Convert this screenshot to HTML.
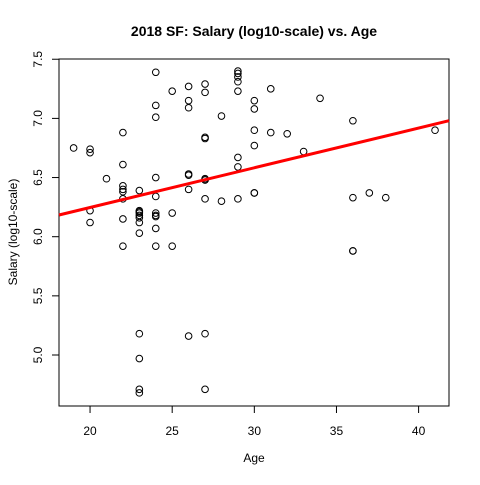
<!DOCTYPE html>
<html><head><meta charset="utf-8"><style>
body{margin:0;background:#fff;}
svg text{font-family:"Liberation Sans",Arial,sans-serif;fill:#000;}
</style></head><body>
<svg id="chart" width="480" height="480">
<text x="254" y="36" text-anchor="middle" font-size="14" font-weight="bold">2018 SF: Salary (log10-scale) vs. Age</text>
<text x="254" y="462" text-anchor="middle" font-size="12">Age</text>
<text transform="translate(17,232) rotate(-90)" text-anchor="middle" font-size="12">Salary (log10-scale)</text>
<rect x="59" y="59" width="390" height="347" fill="none" stroke="#000" stroke-width="1"/>
<g id="axes"></g>
<g id="points"></g>
<g id="fit"></g>
</svg>
<script>
const ages = [19,20,20,20,20,21,22,22,22,22,22,22,22,22,23,23,23,23,23,23,23,23,23,23,23,23,24,24,24,24,24,24,24,24,24,24,25,25,25,26,26,26,26,26,26,26,27,27,27,27,27,27,27,27,27,27,28,28,29,29,29,29,29,29,29,29,30,30,30,30,30,30,31,31,32,33,34,36,36,36,36,37,38,41];
const salaries = [6.75,6.74,6.71,6.22,6.12,6.49,6.88,6.61,6.43,6.40,6.38,6.32,6.15,5.92,6.39,6.22,6.21,6.18,6.16,6.12,6.03,5.18,4.97,4.71,4.68,6.20,7.39,7.11,7.01,6.50,6.34,6.20,6.18,6.17,6.07,5.92,7.23,6.20,5.92,7.27,7.15,7.09,6.53,6.52,6.40,5.16,7.29,7.22,6.84,6.83,6.49,6.48,6.32,5.18,4.71,6.48,7.02,6.30,7.40,7.38,7.35,7.31,7.23,6.67,6.59,6.32,7.15,7.08,6.90,6.77,6.37,6.37,7.25,6.88,6.87,6.72,7.17,6.98,6.33,5.88,5.88,6.37,6.33,6.90];
const xTicks = [20,25,30,35,40];
const yTicks = [5.0,5.5,6.0,6.5,7.0,7.5];
const xDomain = [18.11, 41.85];
const yDomain = [4.569, 7.502];

const NS = "http://www.w3.org/2000/svg";
const X0=59, X1=449, Y0=406, Y1=59;
function sx(v){return X0+(v-xDomain[0])/(xDomain[1]-xDomain[0])*(X1-X0);}
function sy(v){return Y0-(v-yDomain[0])/(yDomain[1]-yDomain[0])*(Y0-Y1);}
function mk(tag,attrs,parent){const e=document.createElementNS(NS,tag);for(const k in attrs)e.setAttribute(k,attrs[k]);parent.appendChild(e);return e;}

const axes=document.getElementById('axes');
const xl=mk('line',{x1:sx(20),x2:sx(40),y1:Y0,y2:Y0,stroke:'#000'},axes);


xTicks.forEach(t=>{
  const l=mk('line',{x1:sx(t),x2:sx(t),y1:Y0,y2:Y0+7,stroke:'#000'},axes);
  
  
  const tx=mk('text',{x:sx(t),y:435,'text-anchor':'middle','font-size':'12'},axes);
  tx.textContent=t;
  
  
});
yTicks.forEach(t=>{
  const l=mk('line',{x1:X0-7,x2:X0,y1:sy(t),y2:sy(t),stroke:'#000'},axes);
  
  
  const tx=mk('text',{transform:`translate(42,${sy(t)}) rotate(-90)`,'text-anchor':'middle','font-size':'12'},axes);
  tx.textContent=t.toFixed(1);
  
  
});

const pts=document.getElementById('points');
ages.forEach((a,i)=>{
  const c=mk('circle',{cx:sx(a),cy:sy(salaries[i]),r:3.3,fill:'none',stroke:'#000','stroke-width':'1'},pts);
  
  
});

// OLS fit
const n=ages.length;
const mx=ages.reduce((s,v)=>s+v,0)/n, my=salaries.reduce((s,v)=>s+v,0)/n;
let sxy=0,sxx=0;
for(let i=0;i<n;i++){sxy+=(ages[i]-mx)*(salaries[i]-my);sxx+=(ages[i]-mx)**2;}
const b=sxy/sxx, a0=my-b*mx;
const fl=mk('line',{x1:X0,y1:sy(a0+b*xDomain[0]),x2:X1,y2:sy(a0+b*xDomain[1]),stroke:'#ff0000','stroke-width':'3'},document.getElementById('fit'));


</script>
</body></html>
